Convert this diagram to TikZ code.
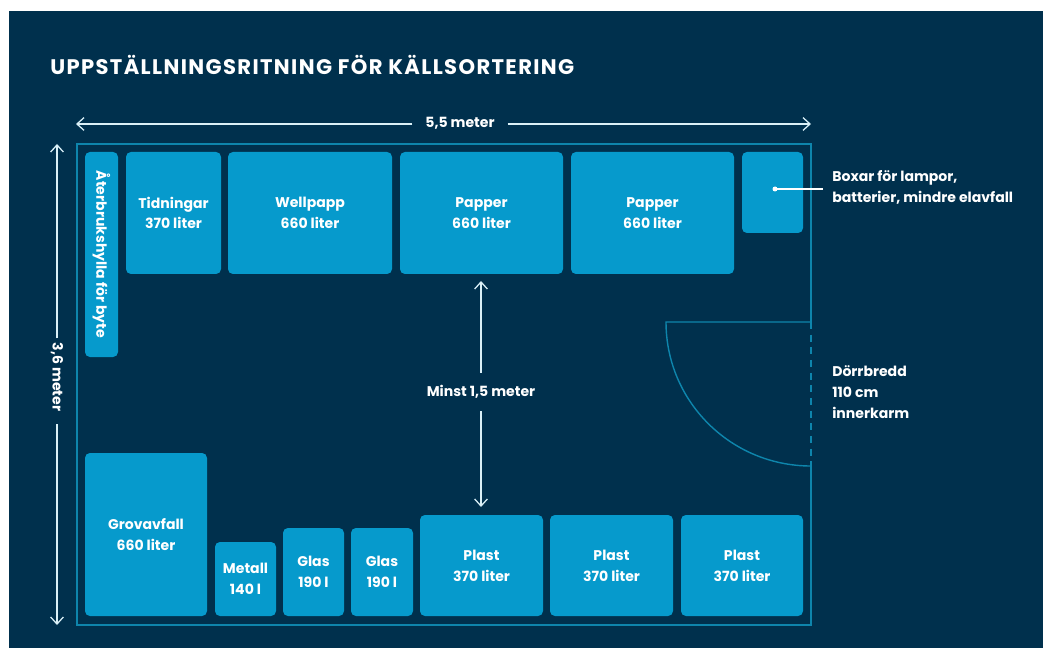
\documentclass[tikz,border=0pt]{standalone}
\usepackage{fontspec}
\setmainfont{Poppins}
\usepackage{tikz}
\usetikzlibrary{arrows.meta}
\definecolor{xnavy}{HTML}{00304D}
\definecolor{xblue}{HTML}{069ACC}
\definecolor{xwall}{HTML}{0E85AC}
\tikzset{
  bin/.style 2 args = {fill=xblue, rounded corners=3.5pt, inner sep=0pt, text=white, align=center,
    font=\bfseries\fontsize{10}{14.8}\selectfont, minimum width=#1*0.025cm, minimum height=#2*0.025cm},
  note/.style = {text=white, align=left, anchor=west, inner sep=0pt,
    font=\bfseries\fontsize{10}{14.8}\selectfont},
  dimlabel/.style = {text=white, inner sep=0pt, font=\bfseries\fontsize{10}{12}\selectfont},
  dim/.style = {white!85!xblue, line width=0.9pt, -{Straight Barb[length=5pt,width=9pt]}},
  wall/.style = {xwall, line width=1pt},
}

\begin{document}
\begin{tikzpicture}[x=0.025cm, y=-0.025cm]
  \useasboundingbox (0,0) rectangle (1043,648);
  \fill[white] (0,0) rectangle (1043,648);
  \fill[xnavy] (9,11) rectangle (1043,648);

  \node[text=white, anchor=base west, inner sep=0pt, font=\bfseries\fontsize{15}{17}\selectfont\addfontfeatures{LetterSpace=6.5}]
    (title) at (50,75) {UPPSTÄLLNINGSRITNING FÖR KÄLLSORTERING};

  % room
  \coordinate (roomNW) at (77,144);
  \coordinate (roomSE) at (811,625);
  \coordinate (doorT) at (811,322);
  \coordinate (doorB) at (811,466);
  \coordinate (doorL) at (666,322);
  \draw[wall] (doorT) -- (811,144) -- (roomNW) -- (77,625) -- (roomSE) -- (doorB);
  \draw[wall, line width=0.8pt, dash pattern=on 5pt off 4pt] (doorT) -- (doorB);
  \draw[wall] (doorT) -- (doorL) arc[start angle=180, end angle=270, x radius=145, y radius=-144];

  % top row
  \node[bin={205}{33}, rotate=-90] (shelf) at (101.5,254.5) {Återbrukshylla för byte};
  \node[bin={95}{122}] (tidningar) at (173.5,213) {Tidningar\\370 liter};
  \node[bin={164}{122}] (wellpapp) at (310,213) {Wellpapp\\660 liter};
  \node[bin={163}{122}] (papperA) at (481.5,213) {Papper\\660 liter};
  \node[bin={163}{122}] (papperB) at (652.5,213) {Papper\\660 liter};
  \node[bin={61}{81}] (boxar) at (772.5,192.5) {};

  % bottom row
  \node[bin={122}{163}] (grovavfall) at (146,534.5) {Grovavfall\\660 liter};
  \node[bin={61}{74}] (metall) at (245.5,579) {Metall\\140 l};
  \node[bin={61}{88}] (glasA) at (313.5,572) {Glas\\190 l};
  \node[bin={62}{88}] (glasB) at (382,572) {Glas\\190 l};
  \node[bin={123}{101}] (plastA) at (481.5,565.5) {Plast\\370 liter};
  \node[bin={123}{101}] (plastB) at (611.5,565.5) {Plast\\370 liter};
  \node[bin={122}{101}] (plastC) at (742,565.5) {Plast\\370 liter};

  % dimensions
  \node[dimlabel] (widthlabel) at (460,123) {5,5 meter};
  \coordinate (widthL) at (76,124);
  \coordinate (widthR) at (811,124);
  \draw[dim] (widthlabel.west |- widthL) ++(-9pt,0) -- (widthL);
  \draw[dim] (widthlabel.east |- widthR) ++(9pt,0) -- (widthR);

  \node[dimlabel, rotate=-90] (heightlabel) at (57,377) {3,6 meter};
  \coordinate (heightT) at (57,144);
  \coordinate (heightB) at (57,625);
  \draw[dim] ([yshift=3pt]heightlabel.west) -- (heightT);
  \draw[dim] ([yshift=-9pt]heightlabel.east) -- (heightB);

  \node[dimlabel] (minst) at (481,392) {Minst 1,5 meter};
  \coordinate (minstT) at (481,281);
  \coordinate (minstB) at (481,507);
  \draw[dim] ([yshift=9pt]minst.north) -- (minstT);
  \draw[dim] ([yshift=-9pt]minst.south) -- (minstB);

  % labels on the right
  \node[note] (boxarlabel) at (832,187.5) {Boxar för lampor,\\batterier, mindre elavfall};
  \node[note] (doorlabel) at (832,392) {Dörrbredd\\110 cm\\innerkarm};
  \coordinate (boxardot) at (775,189);
  \coordinate (boxarend) at (823,189);
  \fill[white] (boxardot) circle (2.5);
  \draw[white, line width=0.8pt] (boxardot) -- (boxarend);
\end{tikzpicture}
\end{document}
